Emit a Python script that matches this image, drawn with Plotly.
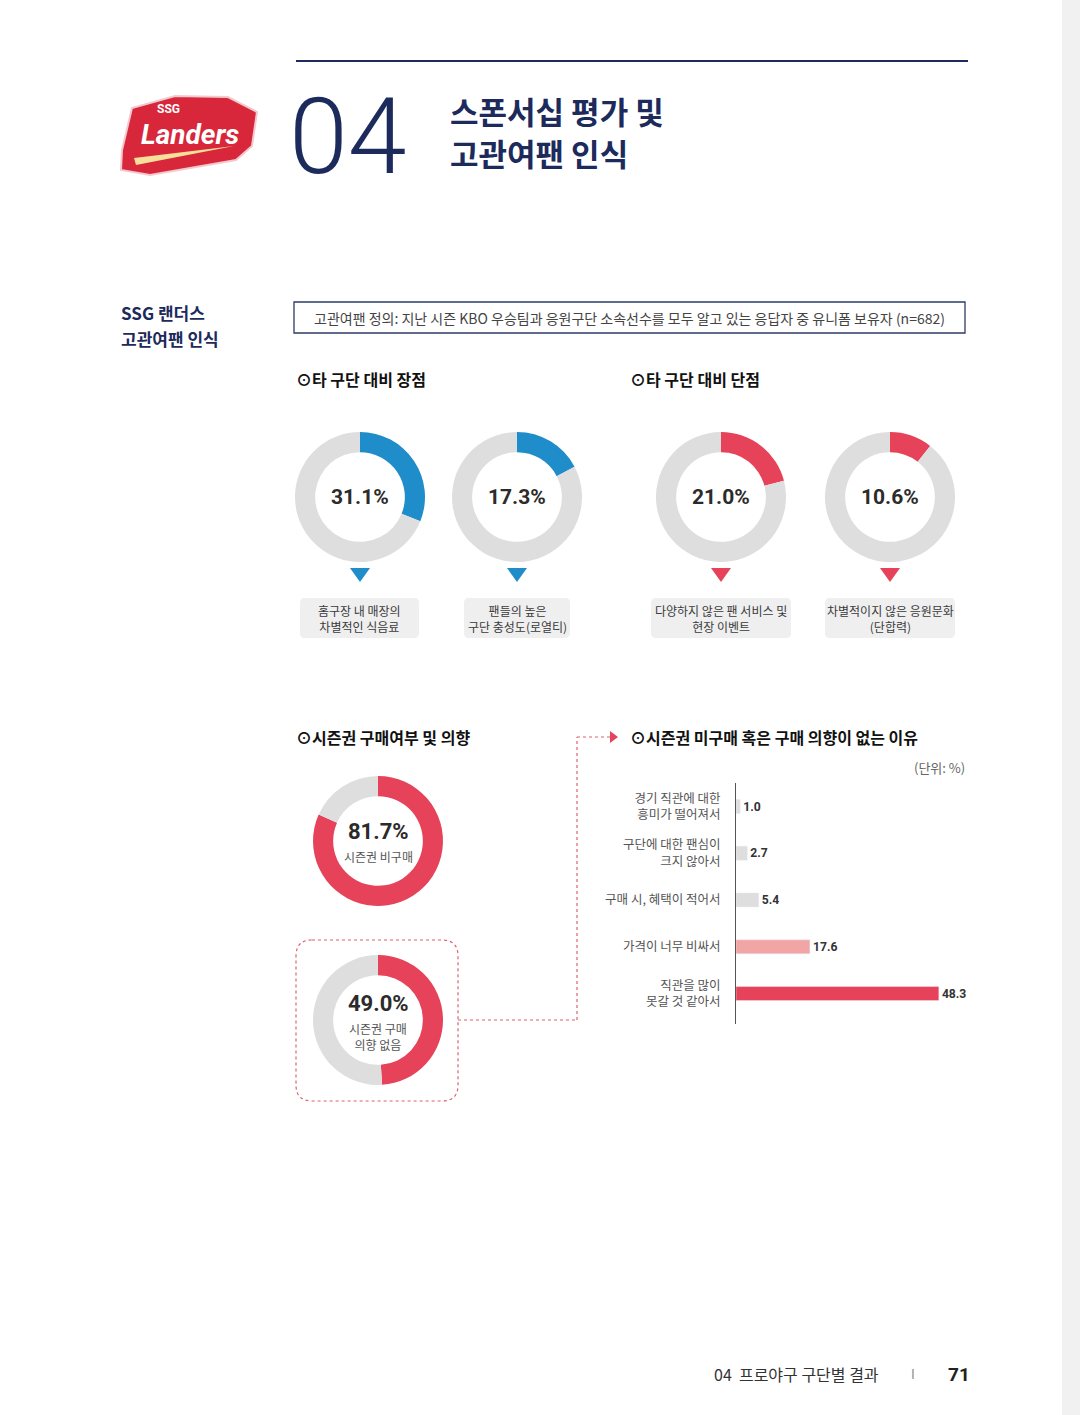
import plotly.graph_objects as go

# ---- data ----
adv_labels = ["홈구장 내 매장의<br>차별적인 식음료", "팬들의 높은<br>구단 충성도(로열티)"]
adv_values = [31.1, 17.3]
dis_labels = ["다양하지 않은 팬 서비스 및<br>현장 이벤트", "차별적이지 않은 응원문화<br>(단합력)"]
dis_values = [21.0, 10.6]
season_labels = ["시즌권 비구매", "시즌권 구매<br>의향 없음"]
season_values = [81.7, 49.0]
reason_labels = ["경기 직관에 대한<br>흥미가 떨어져서", "구단에 대한 팬심이<br>크지 않아서",
                 "구매 시, 혜택이 적어서", "가격이 너무 비싸서", "직관을 많이<br>못갈 것 같아서"]
reason_values = [1.0, 2.7, 5.4, 17.6, 48.3]

W, H = 1080, 1415
BLUE = "#1f8dc9"
RED = "#e6435a"
PINK = "#f2a5a5"
GRAY = "#dedede"
NAVY = "#1c2a5c"
KR = "Noto Sans CJK KR"
NUM = "Liberation Sans Narrow, Roboto, Noto Sans CJK KR"


def X(p):
    return p / W


def Y(p):
    return 1 - p / H


def rrect(x0, y0, x1, y1, r):
    rx, ry = r / W, r / H
    a, b, c, d = X(x0), Y(y0), X(x1), Y(y1)
    return (f"M{a+rx},{b} L{c-rx},{b} Q{c},{b} {c},{b-ry} L{c},{d+ry} Q{c},{d} {c-rx},{d} "
            f"L{a+rx},{d} Q{a},{d} {a},{d+ry} L{a},{b-ry} Q{a},{b} {a+rx},{b} Z")


def tri_down(cx, top, w, h):
    return f"M{X(cx-w/2)},{Y(top)} L{X(cx+w/2)},{Y(top)} L{X(cx)},{Y(top+h)} Z"


fig = go.Figure()
shapes = []
ann = []


def text(x, y, s, size, color="#333", bold=False, xanchor="left", family=KR, yanchor="middle",
         align="left", weight=None):
    f = dict(size=size, color=color, family=family)
    if weight:
        f["weight"] = weight
    ann.append(dict(x=X(x), y=Y(y), xref="paper", yref="paper", text=f"<b>{s}</b>" if bold else s,
                    showarrow=False, xanchor=xanchor, yanchor=yanchor, align=align, font=f))


def donut(v, cx, cy, color, r=65):
    fig.add_trace(go.Pie(values=[v, 100 - v], marker=dict(colors=[color, GRAY], line=dict(color="white", width=0)),
                         hole=0.69, sort=False, direction="clockwise", rotation=0, textinfo="none",
                         hoverinfo="skip", showlegend=False,
                         domain=dict(x=[X(cx - r), X(cx + r)], y=[Y(cy + r), Y(cy - r)])))


# right gray strip
shapes.append(dict(type="rect", xref="paper", yref="paper", x0=X(1062), x1=1, y0=0, y1=1,
                   fillcolor="#f1f1f1", line=dict(width=0), layer="below"))

# ---- header ----
shapes.append(dict(type="line", xref="paper", yref="paper", x0=X(296), x1=X(968), y0=Y(61), y1=Y(61),
                   line=dict(color=NAVY, width=2)))
text(287, 137, "04", 106, NAVY, family=NUM, weight=300)
text(448, 110, "스폰서십 평가 및", 31, NAVY, bold=True)
text(448, 153, "고관여팬 인식", 31, NAVY, bold=True)

# logo approximation
shapes.append(dict(type="path", xref="paper", yref="paper",
                   path=f"M{X(122)},{Y(150)} L{X(132)},{Y(108)} L{X(175)},{Y(96)} L{X(228)},{Y(97)} "
                        f"L{X(257)},{Y(112)} L{X(252)},{Y(146)} L{X(236)},{Y(160)} L{X(150)},{Y(175)} "
                        f"L{X(121)},{Y(170)} Z",
                   fillcolor="#d8263a", line=dict(color="#f3c9cd", width=2)))
shapes.append(dict(type="path", xref="paper", yref="paper",
                   path=f"M{X(134)},{Y(158)} L{X(234)},{Y(146)} L{X(136)},{Y(165)} Z",
                   fillcolor="#f6df9a", line=dict(width=0)))
text(168, 109, "SSG", 12, "white", bold=True, xanchor="center", family="Roboto")
ann.append(dict(x=X(190), y=Y(134), xref="paper", yref="paper", text="<b><i>Landers</i></b>", showarrow=False,
                xanchor="center", yanchor="middle", font=dict(size=28, color="white", family="Roboto")))

text(119, 312, "SSG 랜더스", 17, NAVY, bold=True)
text(119, 339, "고관여팬 인식", 17, NAVY, bold=True)

# definition box
shapes.append(dict(type="rect", xref="paper", yref="paper", x0=X(294), x1=X(965), y0=Y(302), y1=Y(333),
                   line=dict(color="#2e3b66", width=1.3), fillcolor="white"))
text(629.5, 318, "고관여팬 정의: 지난 시즌 KBO 우승팀과 응원구단 소속선수를 모두 알고 있는 응답자 중 유니폼 보유자 (n=682)",
     14, "#444", xanchor="center")

# ---- advantages / disadvantages ----
text(294, 379, "⊙타 구단 대비 장점", 16, "#111", bold=True)
text(628, 379, "⊙타 구단 대비 단점", 16, "#111", bold=True)

top_items = [
    (adv_values[0], adv_labels[0], 360, BLUE, 300, 419),
    (adv_values[1], adv_labels[1], 517, BLUE, 464, 570),
    (dis_values[0], dis_labels[0], 721, RED, 651, 791),
    (dis_values[1], dis_labels[1], 890, RED, 825, 955),
]
for v, lab, cx, col, bx0, bx1 in top_items:
    donut(v, cx, 497, col)
    text(cx, 497, f"{v:.1f}%", 21, "#2b2b2b", bold=True, xanchor="center", family=NUM)
    shapes.append(dict(type="path", xref="paper", yref="paper", path=tri_down(cx, 568, 20, 14),
                       fillcolor=col, line=dict(width=0)))
    shapes.append(dict(type="path", xref="paper", yref="paper", path=rrect(bx0, 598, bx1, 638, 5),
                       fillcolor="#efefef", line=dict(width=0)))
    text((bx0 + bx1) / 2, 618, lab, 12, "#3a3a3a", xanchor="center", align="center")

# ---- season ticket ----
text(294, 737, "⊙시즌권 구매여부 및 의향", 16, "#111", bold=True)
donut(season_values[0], 378, 841, RED)
text(378, 831, f"{season_values[0]:.1f}%", 22, "#2b2b2b", bold=True, xanchor="center", family=NUM)
text(378, 856, season_labels[0], 12, "#555", xanchor="center")

shapes.append(dict(type="path", xref="paper", yref="paper", path=rrect(296, 940, 458, 1101, 16),
                   line=dict(color="#e06070", width=1.2, dash="dot")))
donut(season_values[1], 378, 1020, RED)
text(378, 1003, f"{season_values[1]:.1f}%", 22, "#2b2b2b", bold=True, xanchor="center", family=NUM)
text(378, 1036, season_labels[1], 12, "#555", xanchor="center", align="center")

# connector
dot = dict(color="#e06070", width=1.2, dash="dot")
shapes.append(dict(type="line", xref="paper", yref="paper", x0=X(458), x1=X(577), y0=Y(1020), y1=Y(1020), line=dot))
shapes.append(dict(type="line", xref="paper", yref="paper", x0=X(577), x1=X(577), y0=Y(1020), y1=Y(737), line=dot))
shapes.append(dict(type="line", xref="paper", yref="paper", x0=X(577), x1=X(610), y0=Y(737), y1=Y(737), line=dot))
shapes.append(dict(type="path", xref="paper", yref="paper",
                   path=f"M{X(610)},{Y(731)} L{X(618)},{Y(737)} L{X(610)},{Y(743)} Z",
                   fillcolor=RED, line=dict(width=0)))

# ---- reasons bar chart ----
text(628, 737, "⊙시즌권 미구매 혹은 구매 의향이 없는 이유", 16, "#111", bold=True)
text(967, 767, "(단위: %)", 13, "#666", xanchor="right")

bar_colors = [GRAY, GRAY, GRAY, PINK, RED]
fig.add_trace(go.Bar(x=reason_values, y=reason_labels, orientation="h", marker=dict(color=bar_colors),
                     width=0.3, text=[f"<b>{v:.1f}</b>" for v in reason_values], textposition="outside",
                     textfont=dict(size=13, color="#333", family=NUM), cliponaxis=False,
                     hoverinfo="skip", showlegend=False))

fig.update_layout(
    width=W, height=H, margin=dict(l=0, r=0, t=0, b=0),
    paper_bgcolor="white", plot_bgcolor="rgba(0,0,0,0)",
    font=dict(family=KR),
    xaxis=dict(domain=[X(736), X(967)], range=[0, 55], visible=False),
    yaxis=dict(domain=[Y(1024), Y(783)], range=[4.65, -0.5], showline=True, linecolor="#555", linewidth=1,
               showgrid=False, zeroline=False, ticks="", ticklabelstandoff=12,
               tickfont=dict(size=12.5, color="#555", family=KR)),
    bargap=0.7,
    shapes=shapes,
    annotations=ann,
)

# ---- footer ----
fig.add_annotation(x=X(712), y=Y(1374), xref="paper", yref="paper", text="04  프로야구 구단별 결과", showarrow=False,
                   xanchor="left", yanchor="middle", font=dict(size=16, color="#333", family=KR))
fig.add_annotation(x=X(913), y=Y(1373), xref="paper", yref="paper", text="I", showarrow=False,
                   xanchor="center", yanchor="middle", font=dict(size=13, color="#888", family=KR))
fig.add_annotation(x=X(959), y=Y(1374), xref="paper", yref="paper", text="<b>71</b>", showarrow=False,
                   xanchor="center", yanchor="middle", font=dict(size=19, color="#222", family=NUM))

fig.write_html("out.html", config={"displayModeBar": False},
               post_script="document.body.style.margin='0';")
